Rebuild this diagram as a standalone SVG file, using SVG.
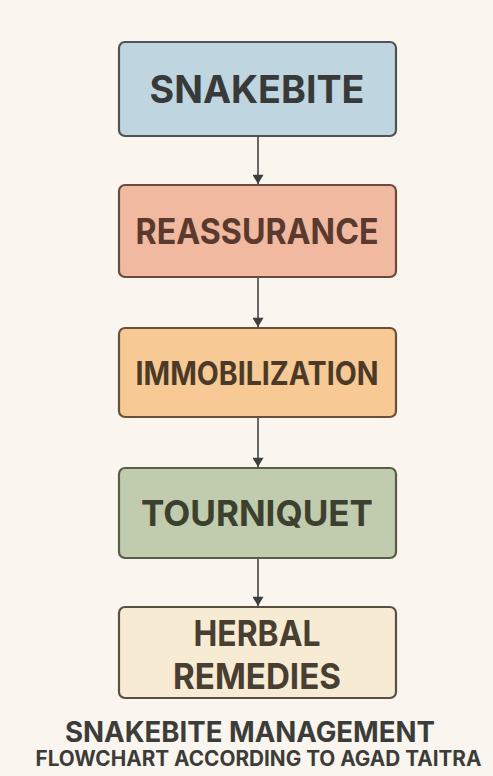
<svg xmlns="http://www.w3.org/2000/svg" width="493" height="776" viewBox="0 0 493 776">
<defs>
<marker id="ah" viewBox="0 0 10 12" refX="10" refY="6" markerWidth="13" markerHeight="11" markerUnits="userSpaceOnUse" orient="auto">
<path d="M0,0 L10,6 L0,12 z" fill="#3e3e3e"/>
</marker>
</defs>
<style>
.box{stroke-width:2.2}
.lbl{font-family:Inter,"Liberation Sans",sans-serif;font-weight:700;text-anchor:middle;dominant-baseline:central}
.conn{stroke:#454545;stroke-width:1.6;fill:none}
.ttl{font-family:Inter,"Liberation Sans",sans-serif;font-weight:700;text-anchor:middle;fill:#3c3c38}
</style>
<rect width="493" height="776" fill="#faf6ef"/>
<g id="connectors">
<line class="conn" x1="258" y1="137" x2="258" y2="184" marker-end="url(#ah)"/>
<line class="conn" x1="258" y1="278" x2="258" y2="327" marker-end="url(#ah)"/>
<line class="conn" x1="258" y1="418" x2="258" y2="467" marker-end="url(#ah)"/>
<line class="conn" x1="258" y1="559" x2="258" y2="606" marker-end="url(#ah)"/>
</g>
<g id="snakebite">
<rect class="box" x="119" y="42" width="277" height="94" rx="6" fill="#bfd6e0" stroke="#505352"/>
<text class="lbl" x="257" y="89" font-size="38" fill="#383a3a" textLength="215" lengthAdjust="spacingAndGlyphs">SNAKEBITE</text>
</g>
<g id="reassurance">
<rect class="box" x="119" y="185" width="277" height="92" rx="6" fill="#f1b9a0" stroke="#6a4a3e"/>
<text class="lbl" x="257" y="231" font-size="35" fill="#5a3a2e" textLength="243" lengthAdjust="spacingAndGlyphs">REASSURANCE</text>
</g>
<g id="immobilization">
<rect class="box" x="119" y="328" width="277" height="89" rx="6" fill="#f6c995" stroke="#6a5038"/>
<text class="lbl" x="257" y="373" font-size="32" fill="#4c3a28" textLength="243" lengthAdjust="spacingAndGlyphs">IMMOBILIZATION</text>
</g>
<g id="tourniquet">
<rect class="box" x="119" y="468" width="277" height="90" rx="6" fill="#c1cbad" stroke="#585d48"/>
<text class="lbl" x="257" y="513" font-size="36" fill="#3c402f" textLength="232" lengthAdjust="spacingAndGlyphs">TOURNIQUET</text>
</g>
<g id="herbal">
<rect class="box" x="119" y="607" width="277" height="91" rx="6" fill="#f8ebd3" stroke="#5a5042"/>
<text class="lbl" x="257" y="633" font-size="36" fill="#483e32" textLength="127" lengthAdjust="spacingAndGlyphs">HERBAL</text>
<text class="lbl" x="257" y="676" font-size="36" fill="#483e32" textLength="168" lengthAdjust="spacingAndGlyphs">REMEDIES</text>
</g>
<g id="title">
<text class="ttl" x="250" y="742" font-size="28" textLength="370" lengthAdjust="spacingAndGlyphs">SNAKEBITE MANAGEMENT</text>
<text class="ttl" x="258.5" y="766" font-size="21" textLength="446" lengthAdjust="spacingAndGlyphs">FLOWCHART ACCORDING TO AGAD TAITRA</text>
</g>
</svg>
